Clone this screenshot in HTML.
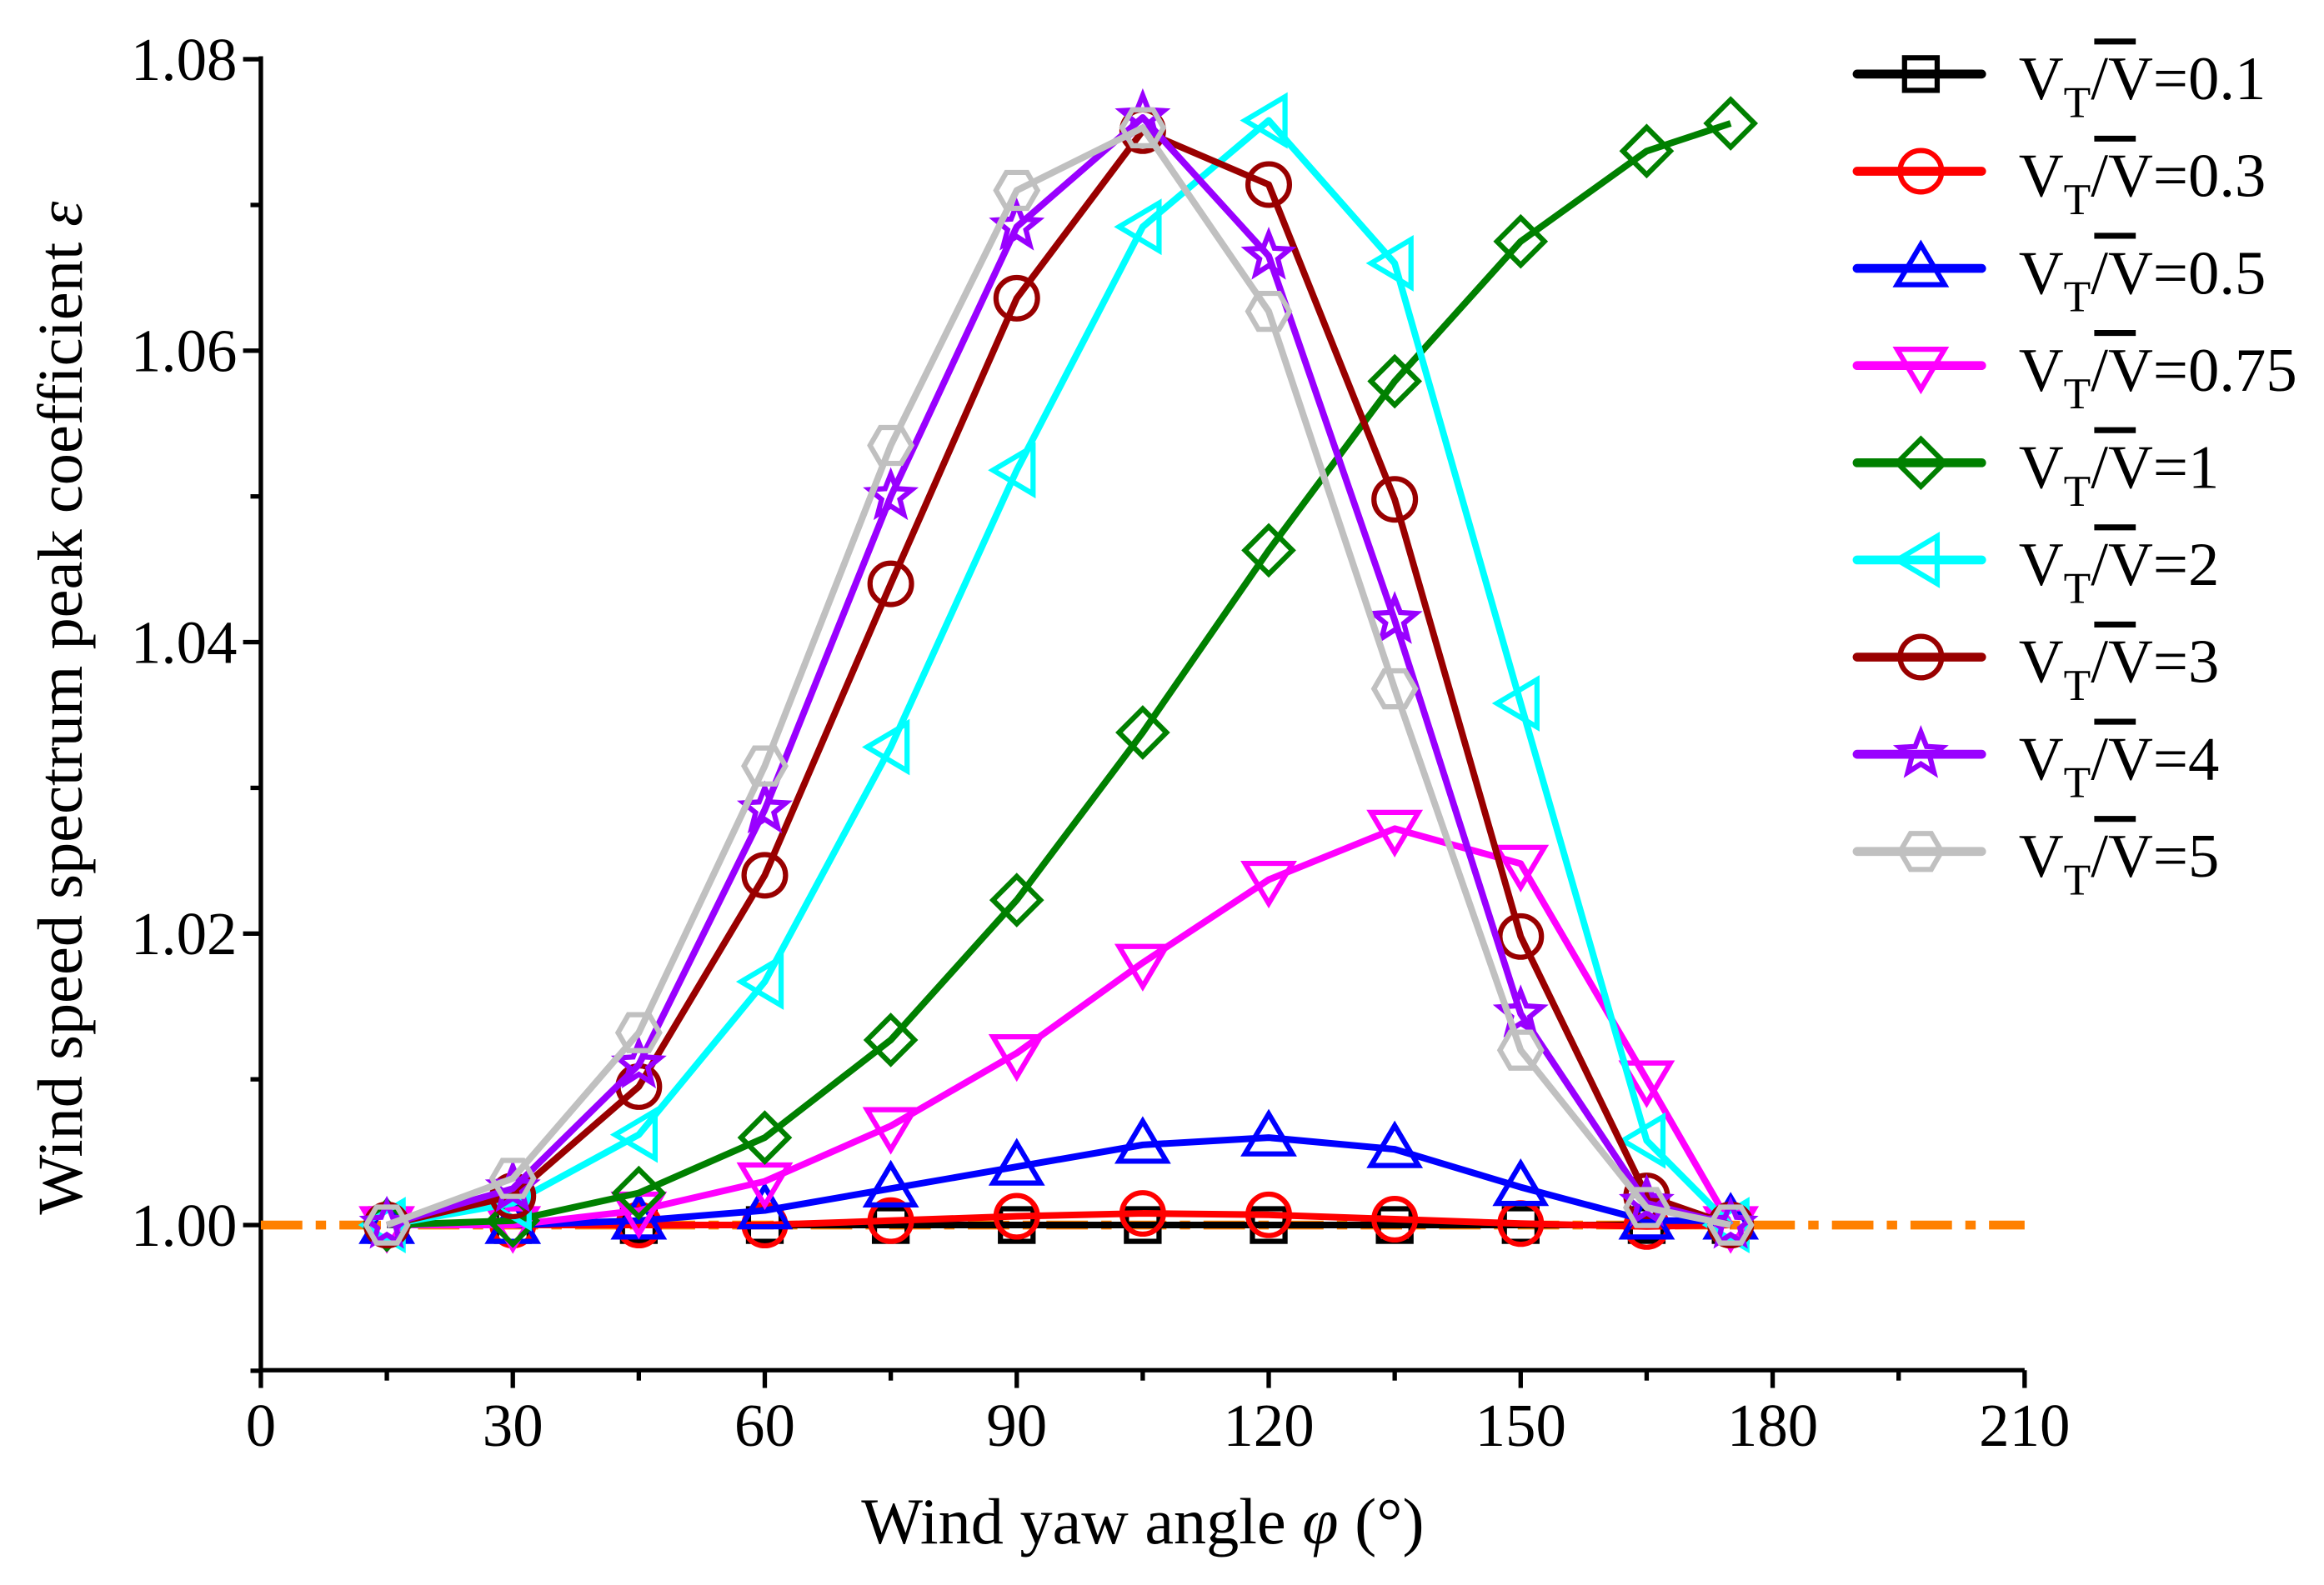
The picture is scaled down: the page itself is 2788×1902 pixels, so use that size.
<!DOCTYPE html>
<html><head><meta charset="utf-8"><style>
html,body{margin:0;padding:0;background:#fff;}
svg{display:block;}
text{font-family:"Liberation Serif",serif;}
</style></head><body>
<svg id="chart" width="2788" height="1902" viewBox="0 0 1568 1070" preserveAspectRatio="none" xmlns="http://www.w3.org/2000/svg">
<g id="axes"></g>
<g id="series"></g>
<g id="legend"></g>
</svg>
<script>
const xValues=[15,30,45,60,75,90,105,120,135,150,165,175];
const s01=[1.000,1.000,1.000,1.000,1.000,1.000,1.000,1.000,1.000,1.000,1.000,1.000];
const s03=[1.000,1.000,1.000,1.000,1.0003,1.0006,1.0008,1.0007,1.0004,1.0001,0.9999,1.000];
const s05=[1.000,1.000,1.0003,1.001,1.0025,1.004,1.0055,1.006,1.0052,1.0026,1.0003,1.0003];
const s075=[1.000,1.000,1.001,1.003,1.0068,1.0118,1.018,1.0237,1.0272,1.0248,1.010,1.000];
const s1=[1.000,1.0003,1.0022,1.006,1.0127,1.0223,1.0338,1.0463,1.0579,1.0675,1.0737,1.0756];
const s2=[1.000,1.0015,1.0062,1.0167,1.0328,1.0518,1.0685,1.0758,1.066,1.0358,1.0058,1.000];
const s3=[1.000,1.002,1.0095,1.024,1.044,1.0636,1.0751,1.0714,1.0498,1.0198,1.002,1.000];
const s4=[1.000,1.0025,1.0110,1.0285,1.050,1.0685,1.076,1.0665,1.0415,1.0145,1.0015,1.000];
const s5=[1.000,1.0032,1.0132,1.0315,1.0535,1.071,1.0753,1.0627,1.0368,1.012,1.0012,1.000];
const seriesLabels=["0.1","0.3","0.5","0.75","1","2","3","4","5"];
const xTicks=[0,30,60,90,120,150,180,210];
const yTicks=[1.00,1.02,1.04,1.06,1.08];
const refLine=1.00;

const NS="http://www.w3.org/2000/svg";
const X0=176,X1=1366,Y0=925,Ytop=40;
function xs(v){return X0+(v-0)/210*(X1-X0);}
function ys(v){return 827-(v-1.00)/0.08*(827-Ytop);}
function mk(tag,attrs,parent){const e=document.createElementNS(NS,tag);for(const k in attrs)e.setAttribute(k,attrs[k]);parent.appendChild(e);return e;}
const axes=document.getElementById('axes');
const sg=document.getElementById('series');
const lg=document.getElementById('legend');

let rl=mk('line',{x1:X0,x2:X1,y1:ys(refLine),y2:ys(refLine),stroke:'#ff8000','stroke-width':6,'stroke-dasharray':'28 9 7 9'},sg);



let xa=mk('line',{x1:X0,x2:X1,y1:Y0,y2:Y0,stroke:'#000','stroke-width':3},axes);


let ya=mk('line',{x1:X0,x2:X0,y1:Ytop-2,y2:Y0+1.5,stroke:'#000','stroke-width':3},axes);


xTicks.forEach(t=>{
  mk('line',{x1:xs(t),x2:xs(t),y1:Y0,y2:Y0+12,stroke:'#000','stroke-width':3},axes);
  if(t<210) mk('line',{x1:xs(t+15),x2:xs(t+15),y1:Y0,y2:Y0+7,stroke:'#000','stroke-width':3},axes);
  let tx=mk('text',{x:xs(t),y:Y0+51,'font-size':41,'text-anchor':'middle'},axes);
  tx.textContent=t;
  
  
});
yTicks.forEach(t=>{
  mk('line',{x1:X0-12,x2:X0,y1:ys(t),y2:ys(t),stroke:'#000','stroke-width':3},axes);
  mk('line',{x1:X0-7,x2:X0,y1:ys(t-0.01),y2:ys(t-0.01),stroke:'#000','stroke-width':3},axes);
  let tx=mk('text',{x:X0-16,y:ys(t)+14,'font-size':41,'text-anchor':'end'},axes);
  tx.textContent=t.toFixed(2);
  
  
});
let xt=mk('text',{x:771,y:1042,'font-size':44,'text-anchor':'middle'},axes);
xt.innerHTML='Wind yaw angle <tspan font-style="italic">φ</tspan> (°)';


let yt=mk('text',{x:0,y:0,'font-size':43,'text-anchor':'middle',transform:'translate(55,478) rotate(-90)'},axes);
yt.innerHTML='Wind speed spectrum peak coefficient <tspan font-style="italic">ε</tspan>';



const allSeries=[s01,s03,s05,s075,s1,s2,s3,s4,s5];
const colors=['#000','#ff0000','#0000ff','#ff00ff','#008000','#00ffff','#990000','#9900ff','#c0c0c0'];
const shapes=['square','circle','up','down','diamond','left','circle','star','hex'];
function marker(shape,cx,cy,color,parent){
  const r=14;let pts;
  const a={fill:'none',stroke:color,'stroke-width':3.5};
  if(shape==='square'){return mk('rect',Object.assign({x:cx-11,y:cy-11,width:22,height:22},a),parent);}
  if(shape==='circle'){return mk('circle',Object.assign({cx:cx,cy:cy,r:r},a),parent);}
  if(shape==='up')pts=[[0,-r-2],[r+2,r-3],[-r-2,r-3]];
  if(shape==='down')pts=[[0,r+2],[r+2,-r+3],[-r-2,-r+3]];
  if(shape==='left')pts=[[-r-2,0],[r-3,-r-2],[r-3,r+2]];
  if(shape==='diamond')pts=[[0,-r-2],[r+2,0],[0,r+2],[-r-2,0]];
  if(shape==='hex'){pts=[];for(let i=0;i<6;i++){const an=Math.PI/3*i;pts.push([r*Math.cos(an),r*Math.sin(an)]);}}
  if(shape==='star'){pts=[];for(let i=0;i<10;i++){const rr=i%2?6.5:r+1;const an=-Math.PI/2+Math.PI/5*i;pts.push([rr*Math.cos(an),rr*Math.sin(an)]);}}
  return mk('polygon',Object.assign({points:pts.map(p=>(cx+p[0])+','+(cy+p[1])).join(' ')},a),parent);
}
allSeries.forEach((vals,si)=>{
  const g=mk('g',{},sg);
  
  
  const d=vals.map((v,i)=>(i?'L':'M')+xs(xValues[i])+','+ys(v)).join(' ');
  const p=mk('path',{d:d,fill:'none',stroke:colors[si],'stroke-width':4.5,'stroke-linejoin':'round'},g);
  
  
  vals.forEach((v,i)=>{
    const m=marker(shapes[si],xs(xValues[i]),ys(v),colors[si],g);
    
    
  });
  const ly=50+si*65.6;
  const le=mk('g',{},lg);
  
  
  mk('line',{x1:1253,x2:1337,y1:ly,y2:ly,stroke:colors[si],'stroke-width':6,'stroke-linecap':'round'},le);
  marker(shapes[si],1296,ly,colors[si],le);
  const t=mk('text',{x:1362,y:ly+17,'font-size':42},le);
  t.innerHTML='V<tspan font-size="30" dy="12">T</tspan><tspan dy="-12">/</tspan>V='+seriesLabels[si];
  mk('line',{x1:1413,x2:1441,y1:ly-22,y2:ly-22,stroke:'#000','stroke-width':4},le);
});
</script>
</body></html>
